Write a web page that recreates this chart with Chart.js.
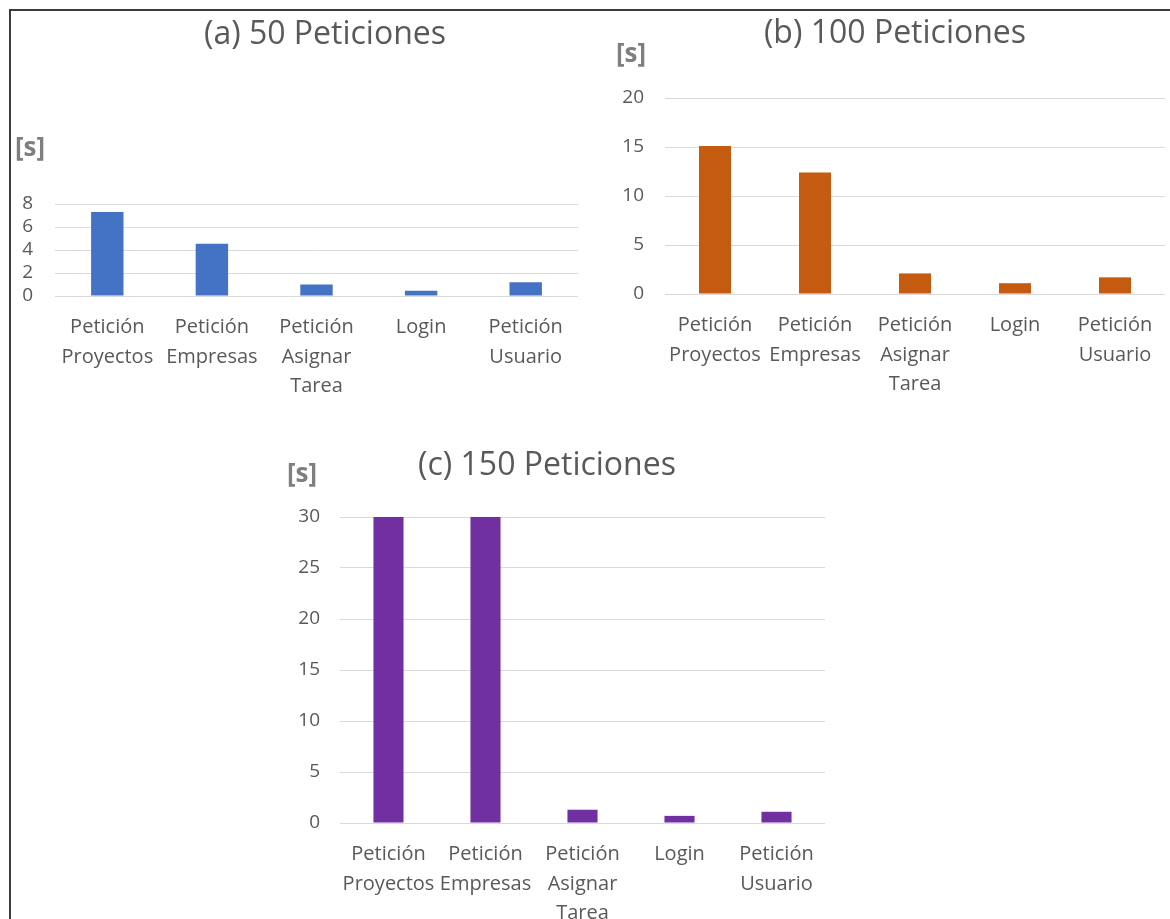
<!DOCTYPE html>
<html lang="es">
<head>
<meta charset="utf-8">
<title>Tiempos de respuesta por petición</title>
<script src="https://cdn.jsdelivr.net/npm/chart.js@4.4.1/dist/chart.umd.min.js"></script>
<style>
  html, body { margin: 0; padding: 0; background: #ffffff; }
  body { width: 1170px; height: 919px; position: relative; overflow: hidden; }
  .frame { position: absolute; left: 9px; top: 9px; width: 1170px; height: 919px;
           border-top: 2px solid #3c3c3c; border-left: 2px solid #3c3c3c; box-sizing: border-box; }
  canvas { position: absolute; }
</style>
</head>
<body>
<div class="frame"></div>
<canvas id="c50" width="580" height="400" style="left:10px;top:10px"></canvas>
<canvas id="c100" width="580" height="400" style="left:590px;top:10px"></canvas>
<canvas id="c150" width="600" height="479" style="left:260px;top:440px"></canvas>
<script>
// Categorías (peticiones medidas)
const categorias = [
  ['Petición', 'Proyectos'],
  ['Petición', 'Empresas'],
  ['Petición', 'Asignar', 'Tarea'],
  'Login',
  ['Petición', 'Usuario']
];

// Tiempo de respuesta en segundos para cada carga
const tiempos50  = [7.3, 4.55, 1.0, 0.45, 1.2];
const tiempos100 = [15.1, 12.4, 2.1, 1.1, 1.7];
const tiempos150 = [30, 30, 1.3, 0.7, 1.1];

// Escalas del eje Y: [máximo, paso]
const ejeY50  = [8, 2];
const ejeY100 = [20, 5];
const ejeY150 = [30, 5];

const titulos = ['(a) 50 Peticiones', '(b) 100 Peticiones', '(c) 150 Peticiones'];
const unidad = '[s]';

const FONT = '"Open Sans", "Noto Sans", sans-serif';
const GRIS_TEXTO = '#595959';

// Dibuja el título de cada panel y la unidad del eje Y
const textoPanel = {
  id: 'textoPanel',
  afterDraw(chart, args, o) {
    const ctx = chart.ctx;
    ctx.save();
    ctx.textAlign = 'center';
    ctx.textBaseline = 'middle';
    ctx.fillStyle = GRIS_TEXTO;
    ctx.font = '32px ' + FONT;
    ctx.fillText(o.titulo, o.tituloX, o.tituloY);
    ctx.fillStyle = '#7f7f7f';
    ctx.font = 'bold 26px ' + FONT;
    ctx.fillText(unidad, o.unidadX, o.unidadY);
    ctx.restore();
  }
};

function panel(id, valores, eje, color, g) {
  new Chart(document.getElementById(id), {
    type: 'bar',
    data: {
      labels: categorias,
      datasets: [{
        data: valores,
        backgroundColor: color,
        borderWidth: 0,
        categoryPercentage: 1,
        barPercentage: g.barra
      }]
    },
    options: {
      responsive: false,
      animation: false,
      devicePixelRatio: 1,
      layout: { padding: { top: g.arriba, right: g.derecha, left: 0, bottom: 0 } },
      plugins: {
        legend: { display: false },
        tooltip: { enabled: false },
        textoPanel: g.texto
      },
      scales: {
        x: {
          grid: { display: false, drawTicks: false },
          border: { display: false },
          ticks: {
            color: GRIS_TEXTO,
            font: { family: FONT, size: 20, lineHeight: 1.47 },
            padding: 17,
            autoSkip: false,
            maxRotation: 0,
            minRotation: 0
          },
          afterFit(s) { s.height = g.altoX; }
        },
        y: {
          min: 0,
          max: eje[0],
          grid: { color: '#d9d9d9', lineWidth: 1, drawTicks: false },
          border: { display: false },
          ticks: {
            stepSize: eje[1],
            autoSkip: false,
            color: GRIS_TEXTO,
            font: { family: FONT, size: g.tamY, lineHeight: 1 },
            padding: g.padY
          },
          afterFit(s) { s.width = g.anchoY; }
        }
      }
    },
    plugins: [textoPanel]
  });
}

panel('c50', tiempos50, ejeY50, '#4472C4', {
  barra: 0.31, arriba: 194, derecha: 12, altoX: 114, anchoY: 45, padY: 22, tamY: 19,
  texto: { titulo: titulos[0], tituloX: 315, tituloY: 25, unidadX: 20, unidadY: 139 }
});

panel('c100', tiempos100, ejeY100, '#C55A11', {
  barra: 0.32, arriba: 88, derecha: 5, altoX: 116, anchoY: 75, padY: 21, tamY: 19,
  texto: { titulo: titulos[1], tituloX: 305, tituloY: 24, unidadX: 41, unidadY: 45 }
});

panel('c150', tiempos150, ejeY150, '#7030A0', {
  barra: 0.31, arriba: 77, derecha: 35, altoX: 96, anchoY: 80, padY: 20, tamY: 19,
  texto: { titulo: titulos[2], tituloX: 287, tituloY: 26, unidadX: 42, unidadY: 35 }
});
</script>
</body>
</html>
